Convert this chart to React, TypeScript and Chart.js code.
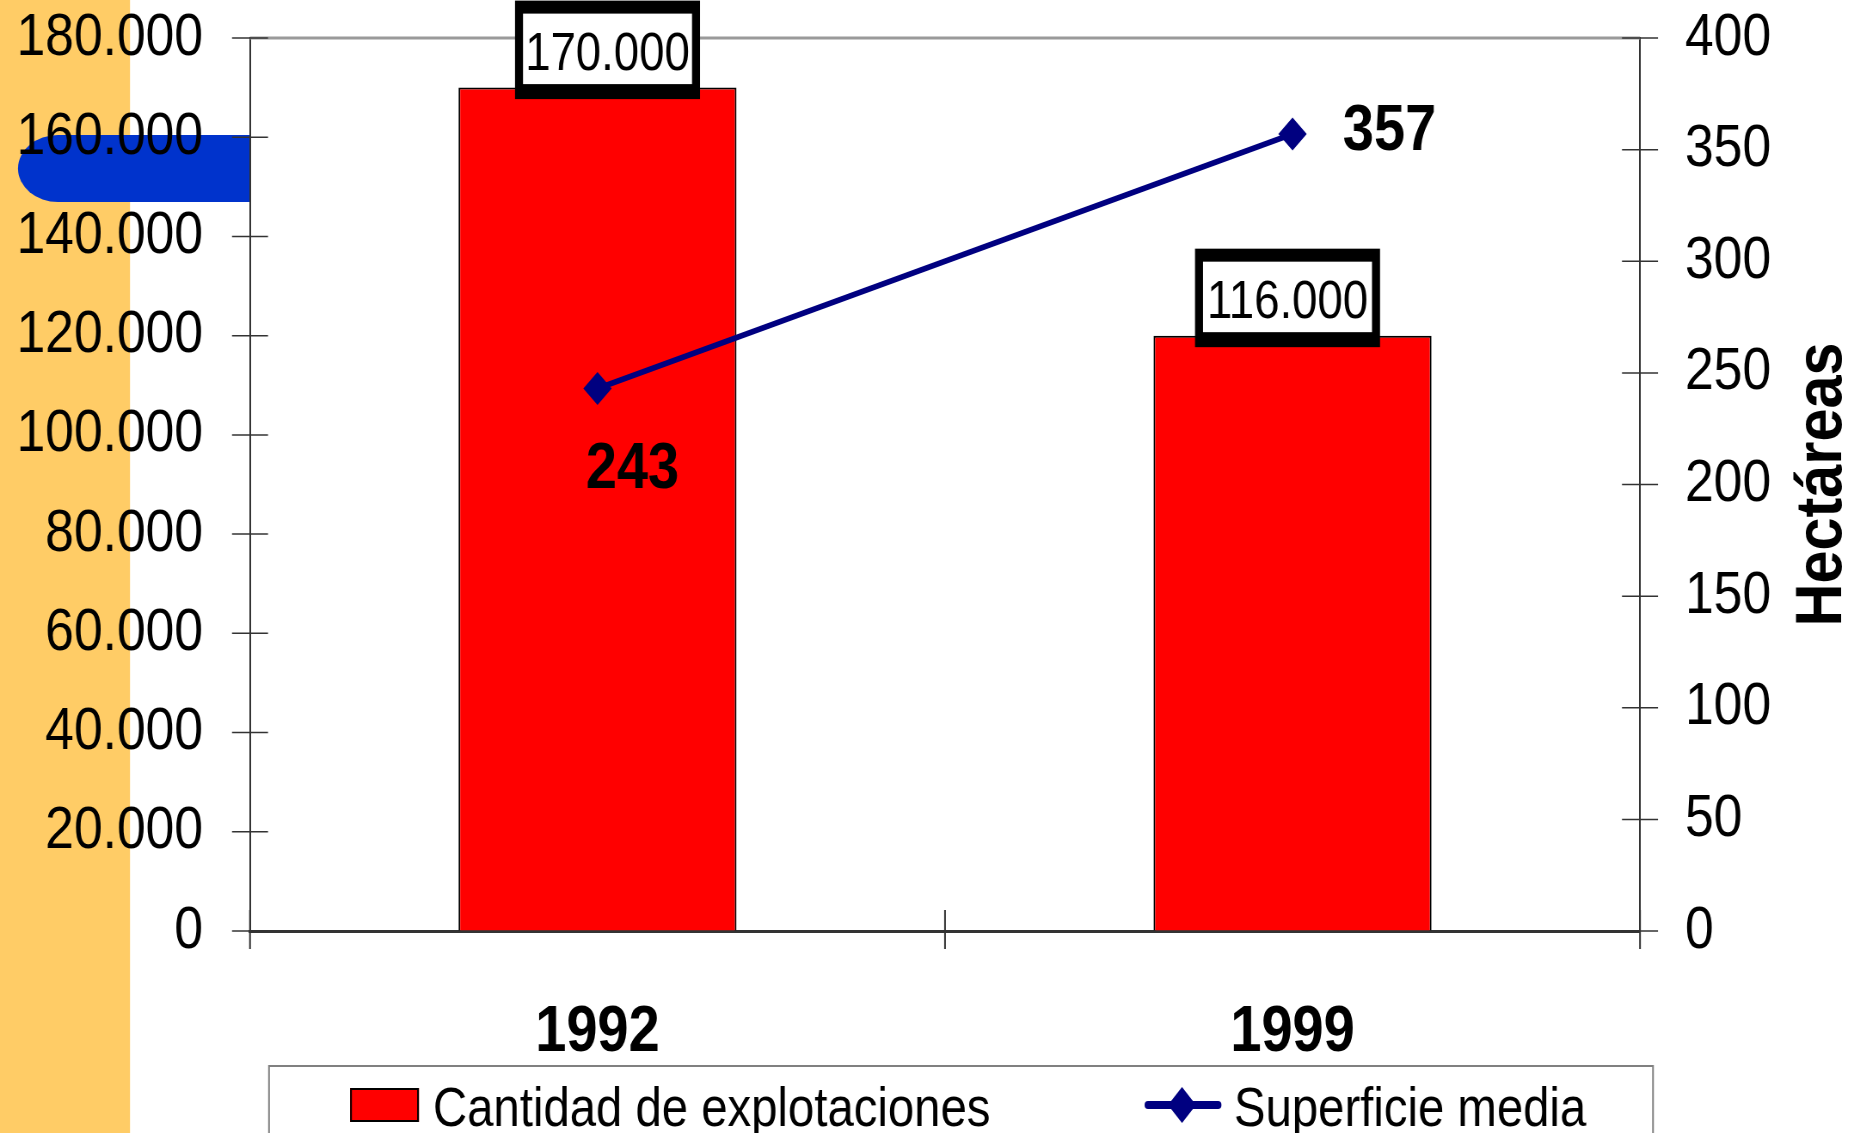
import React, { useEffect, useRef } from 'react';
import { Chart, registerables } from 'chart.js';

Chart.register(...registerables);

// ---- data ----
const categories = ['1992', '1999'];
const explotaciones = [170000, 120000];
const explotacionesLabels = ['170.000', '116.000'];
const superficie = [243, 357];
const seriesNames = ['Cantidad de explotaciones', 'Superficie media'];
const rightAxisTitle = 'Hectáreas';
const leftAxisMax = 180000;
const leftAxisStep = 20000;
const rightAxisMax = 400;
const rightAxisStep = 50;

// ---- style ----
// The reference is horizontally condensed: draw on a wider canvas and squeeze it with CSS.
const W = 1854;
const H = 1133;
const CW = 2156;
const K = W / CW;
const X = (px: number) => px / K;
const SANS = "'Liberation Sans', Arial, sans-serif";
const NAVY = '#000080';
const RED = '#FF0000';
const boxOffsetsX = [10, -5];
const pointLabelOffsets = [
  { dx: 35, dy: 99 },
  { dx: 97, dy: 16 },
];

function fmtThousands(v: number): string {
  const s = Math.round(v).toString();
  return s.replace(/\B(?=(\d{3})+(?!\d))/g, '.');
}

function line(ctx: CanvasRenderingContext2D, x1: number, y1: number, x2: number, y2: number) {
  ctx.beginPath();
  ctx.moveTo(x1, y1);
  ctx.lineTo(x2, y2);
  ctx.stroke();
}

function text(
  ctx: CanvasRenderingContext2D,
  s: string,
  x: number,
  y: number,
  font: string,
  align: CanvasTextAlign,
  sx = 1
) {
  ctx.save();
  ctx.font = font;
  ctx.translate(x, y);
  ctx.scale(sx, 1);
  ctx.textAlign = align;
  ctx.textBaseline = 'alphabetic';
  ctx.fillStyle = '#000';
  ctx.fillText(s, 0, 0);
  ctx.restore();
}

const decorPlugin = {
  id: 'decor',
  beforeDraw(chart: any) {
    const ctx: CanvasRenderingContext2D = chart.ctx;
    const left = chart.chartArea.left;
    ctx.save();
    ctx.fillStyle = '#ffffff';
    ctx.fillRect(0, 0, CW, H);
    ctx.fillStyle = '#FFCC66';
    ctx.fillRect(0, 0, X(130), H);
    ctx.fillStyle = '#0033CC';
    ctx.beginPath();
    ctx.moveTo(left, 135);
    ctx.lineTo(X(58), 135);
    ctx.ellipse(X(58), 168.5, X(40), 33.5, 0, -Math.PI / 2, Math.PI / 2, true);
    ctx.lineTo(left, 202);
    ctx.closePath();
    ctx.fill();
    ctx.restore();
  },
};

const overlayPlugin = {
  id: 'overlay',
  afterDatasetsDraw(chart: any) {
    const ctx: CanvasRenderingContext2D = chart.ctx;
    const { left, right, top, bottom } = chart.chartArea;
    const ys = chart.scales.y;
    const y1s = chart.scales.y1;
    const xs = chart.scales.x;
    ctx.save();
    // top frame line
    ctx.strokeStyle = '#9a9a9a';
    ctx.lineWidth = 3;
    line(ctx, left, top, right, top);
    // tick marks crossing the axes
    ctx.strokeStyle = '#333';
    ctx.lineWidth = 1.5;
    ys.ticks.forEach((t: any) => {
      const y = ys.getPixelForValue(t.value);
      line(ctx, left - X(18), y, left + X(18), y);
    });
    y1s.ticks.forEach((t: any) => {
      const y = y1s.getPixelForValue(t.value);
      line(ctx, right - X(18), y, right + X(18), y);
    });
    ctx.lineWidth = 2;
    for (let i = 0; i <= categories.length; i++) {
      const x = xs.getPixelForValue(i - 0.5);
      line(ctx, x, bottom - 21, x, bottom + 18);
    }

    // bar value boxes
    const barMeta = chart.getDatasetMeta(0);
    barMeta.data.forEach((bar: any, i: number) => {
      const cx = bar.x + X(boxOffsetsX[i]);
      const bt = bar.y;
      const ox = cx - X(92.5);
      const oy = bt - 87;
      ctx.fillStyle = '#000';
      ctx.fillRect(ox, oy, X(185), 98.5);
      ctx.fillStyle = '#fff';
      ctx.fillRect(ox + X(8), oy + 13, X(169), 70.5);
      text(ctx, explotacionesLabels[i], cx, oy + 50 + 19, `53px ${SANS}`, 'center');
    });

    // line value labels
    const lineMeta = chart.getDatasetMeta(1);
    lineMeta.data.forEach((pt: any, i: number) => {
      const o = pointLabelOffsets[i];
      text(ctx, String(superficie[i]), pt.x + X(o.dx), pt.y + o.dy, `bold 65px ${SANS}`, 'center');
    });

    // right axis title (reads bottom to top)
    ctx.save();
    ctx.font = `bold 66px ${SANS}`;
    const tw = ctx.measureText(rightAxisTitle).width;
    ctx.translate(X(1841), (top + bottom) / 2);
    ctx.rotate(-Math.PI / 2);
    ctx.scale(284 / tw, 1 / K);
    ctx.textAlign = 'center';
    ctx.textBaseline = 'alphabetic';
    ctx.fillStyle = '#000';
    ctx.fillText(rightAxisTitle, 0, 0);
    ctx.restore();

    // legend
    ctx.strokeStyle = '#808080';
    ctx.lineWidth = 2;
    ctx.strokeRect(X(269), 1066, X(1384), 120);
    // bar swatch
    ctx.fillStyle = RED;
    ctx.fillRect(X(350), 1088, X(69), 34);
    ctx.strokeStyle = '#000';
    ctx.lineWidth = 2;
    ctx.strokeRect(X(351), 1089, X(67), 32);
    text(ctx, seriesNames[0], X(433), 1126, `55px ${SANS}`, 'left');
    // line swatch
    ctx.strokeStyle = NAVY;
    ctx.lineWidth = 8;
    ctx.lineCap = 'round';
    line(ctx, X(1148), 1105, X(1218), 1105);
    ctx.fillStyle = NAVY;
    ctx.beginPath();
    ctx.moveTo(X(1182), 1087);
    ctx.lineTo(X(1196), 1105);
    ctx.lineTo(X(1182), 1123);
    ctx.lineTo(X(1168), 1105);
    ctx.closePath();
    ctx.fill();
    text(ctx, seriesNames[1], X(1234), 1126, `55px ${SANS}`, 'left');
    ctx.restore();
  },
};

function noOverhang(s: any) {
  s.paddingTop = 0;
  s.paddingBottom = 0;
  s.paddingLeft = 0;
  s.paddingRight = 0;
}

export default function App() {
  const ref = useRef<HTMLCanvasElement>(null);
  useEffect(() => {
    document.body.style.margin = '0';
    document.body.style.overflow = 'hidden';
    const canvas = ref.current!;
    const chart = new Chart(canvas, {
      type: 'bar',
      data: {
        labels: categories,
        datasets: [
          {
            type: 'bar',
            label: seriesNames[0],
            data: explotaciones,
            backgroundColor: RED,
            borderColor: '#000',
            borderWidth: 2,
            barPercentage: 0.4,
            categoryPercentage: 1,
            yAxisID: 'y',
            order: 2,
          },
          {
            type: 'line',
            label: seriesNames[1],
            data: superficie,
            borderColor: NAVY,
            borderWidth: 6,
            backgroundColor: NAVY,
            pointStyle: 'rectRot',
            pointRadius: 16.5,
            pointBackgroundColor: NAVY,
            pointBorderWidth: 0,
            yAxisID: 'y1',
            order: 1,
          } as any,
        ],
      },
      options: {
        animation: false,
        responsive: false,
        devicePixelRatio: 1,
        layout: { padding: { top: 38, left: 0, right: 0, bottom: 0 } },
        plugins: {
          legend: { display: false },
          tooltip: { enabled: false },
          title: { display: false },
        },
        scales: {
          x: {
            type: 'category',
            offset: true,
            grid: { display: true, drawOnChartArea: false, drawTicks: false },
            border: { display: true, color: '#333', width: 3 },
            ticks: {
              color: '#000',
              padding: 63,
              font: { family: SANS, size: 65, weight: 'bold' },
            },
            afterFit(s: any) {
              s.height = 202;
              noOverhang(s);
            },
          },
          y: {
            type: 'linear',
            position: 'left',
            min: 0,
            max: leftAxisMax,
            grid: { display: true, drawOnChartArea: false, drawTicks: false },
            border: { display: true, color: '#333', width: 2 },
            ticks: {
              stepSize: leftAxisStep,
              color: '#000',
              padding: X(47),
              font: { family: SANS, size: 60 },
              callback: (v: any) => fmtThousands(Number(v)),
            },
            afterFit(s: any) {
              s.width = X(250);
              noOverhang(s);
            },
          },
          y1: {
            type: 'linear',
            position: 'right',
            min: 0,
            max: rightAxisMax,
            grid: { display: true, drawOnChartArea: false, drawTicks: false },
            border: { display: true, color: '#333', width: 2 },
            ticks: {
              stepSize: rightAxisStep,
              color: '#000',
              padding: X(45),
              font: { family: SANS, size: 60 },
            },
            afterFit(s: any) {
              s.width = CW - X(1640);
              noOverhang(s);
            },
          },
        },
      } as any,
      plugins: [decorPlugin, overlayPlugin],
    });
    return () => chart.destroy();
  }, []);
  return (
    <canvas
      ref={ref}
      width={CW}
      height={H}
      style={{ display: 'block', width: W + 'px', height: H + 'px' }}
    />
  );
}
